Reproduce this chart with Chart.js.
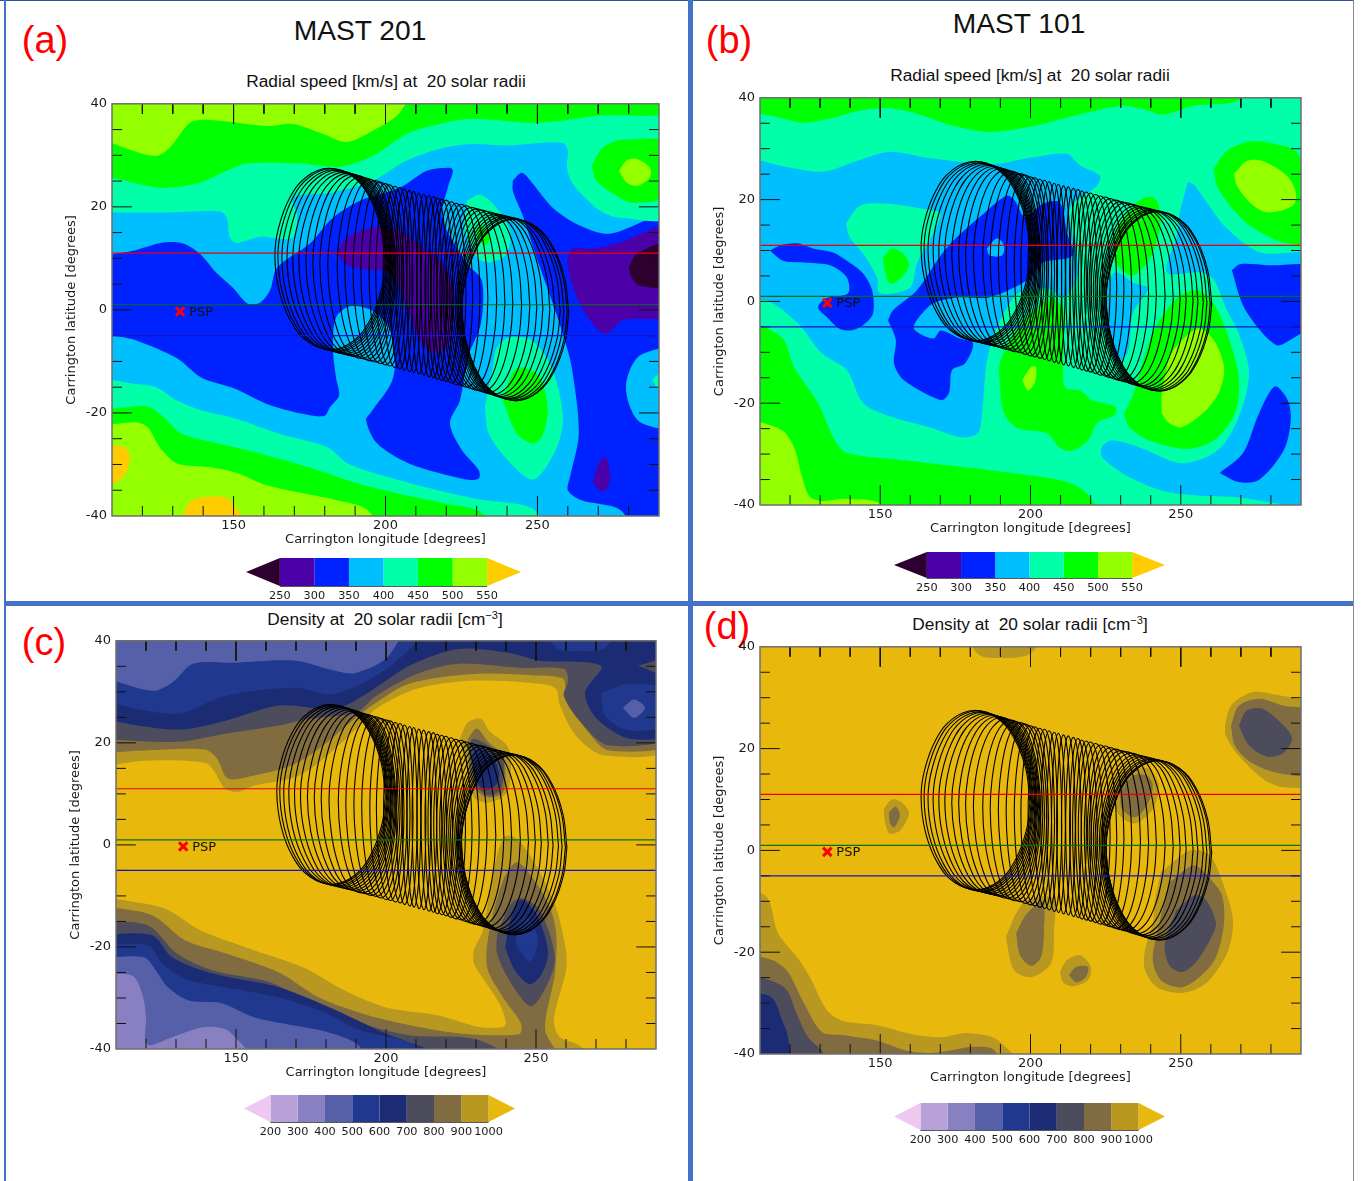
<!DOCTYPE html>
<html>
<head>
<meta charset="utf-8">
<title>MAST 201 / MAST 101</title>
<script src="https://cdn.jsdelivr.net/npm/chart.js@4"></script>
<style>
    html, body { margin: 0; padding: 0; background: #fff; }
    #page { position: relative; width: 1364px; height: 1181px; overflow: hidden; background: #fff; }
    .rule { position: absolute; background: #4472c4; }
    .txt { position: absolute; font-family: "Liberation Sans", Arial, sans-serif; color: #111; white-space: pre; transform: translate(-50%, -50%); line-height: 1; }
    .tag { color: #f00; font-size: 38px; }
    .big { font-size: 28.2px; }
    .sub { font-size: 17.3px; }
    .sub sup { font-size: 11px; line-height: 0; }
    canvas { position: absolute; }
</style>
</head>
<body>
<div id="page">
    <div class="rule" style="left:0;top:0;width:1353px;height:1px;background:#2f5597"></div>
    <div class="rule" style="left:4px;top:0;width:2px;height:1181px"></div>
    <div class="rule" style="left:688px;top:0;width:5px;height:1181px"></div>
    <div class="rule" style="left:4px;top:601px;width:1349px;height:5px"></div>
    <div class="rule" style="left:1353px;top:0;width:1px;height:1181px;background:#8a8a8a"></div>

    <div class="txt tag" style="left:45px;top:40px">(a)</div>
    <div class="txt tag" style="left:729px;top:40px">(b)</div>
    <div class="txt tag" style="left:44px;top:642px">(c)</div>
    <div class="txt tag" style="left:727px;top:626px">(d)</div>
    <div class="txt big" style="left:360px;top:30px">MAST 201</div>
    <div class="txt big" style="left:1019px;top:23px">MAST 101</div>
    <div class="txt sub" style="left:386px;top:82px">Radial speed [km/s] at  20 solar radii</div>
    <div class="txt sub" style="left:1030px;top:76px">Radial speed [km/s] at  20 solar radii</div>
    <div class="txt sub" style="left:385px;top:620px">Density at  20 solar radii [cm<sup>−3</sup>]</div>
    <div class="txt sub" style="left:1030px;top:625px">Density at  20 solar radii [cm<sup>−3</sup>]</div>
</div>
<script>
// axes
const lonRange = [110, 290];
const latRange = [-40, 40];
const lonLabels = [150, 200, 250];
const latLabels = [-40, -20, 0, 20, 40];
const lonMajorTicks = [150, 200, 250];
const lonMinorTicks = [120, 130, 140, 160, 170, 180, 190, 210, 220, 230, 240, 260, 270, 280];
const latMajorTicks = [-20, 0, 20];
const latMinorTicks = [-35, -30, -25, -15, -10, -5, 5, 10, 15, 25, 30, 35];
const orbitLats = [11, 1, -5];
const pspLon = 132.4;
const pspLat = -0.3;

// colour bars
const speedLevels = [250, 300, 350, 400, 450, 500, 550];
const densityLevels = [200, 300, 400, 500, 600, 700, 800, 900, 1000];

const ringLons = [181.7, 182.4, 183.2, 184.2, 185.3, 186.5, 187.8, 189.1, 190.4, 191.9, 193.6, 195, 196.7, 198.3, 200, 201.4, 203.1, 204.7, 206.2, 207.9, 209.3, 211, 212.6, 214.3, 215.8, 217.1, 218.6, 220, 221.7, 223.3, 225, 226.6, 228.4, 230.1, 231.7, 233.5, 235.2, 236.6, 237.8, 239.1, 240.1, 241.1, 241.9, 242.5, 242.7];
const ringLats = [9.9, 9.8, 9.6, 9.5, 9.3, 9.1, 8.9, 8.7, 8.5, 8.2, 8, 7.7, 7.5, 7.2, 6.9, 6.7, 6.4, 6.2, 5.9, 5.6, 5.4, 5.1, 4.9, 4.6, 4.4, 4.1, 3.9, 3.7, 3.4, 3.1, 2.9, 2.6, 2.3, 2, 1.8, 1.5, 1.2, 1, 0.8, 0.6, 0.4, 0.3, 0.1, 0, 0];
const ringHalfWidths = [18.1, 17.8, 17.3, 16.6, 15.8, 15, 14, 13, 12, 10.9, 9.5, 8.4, 7.4, 6.4, 5.4, 4.6, 3.9, 3.3, 2.8, 2.5, 2.3, 2.3, 2.3, 2.6, 2.8, 3.1, 3.6, 4.1, 4.8, 5.4, 6.1, 7.1, 8.2, 9.2, 10.2, 11.3, 12.3, 13.2, 14, 15, 15.6, 16.4, 16.8, 17.3, 17.6];
const ringOutlineLon = [18, 16.6, 12.7, 6.9, -0.5, -7.5, -13, -16.8, -18, -16.6, -12.7, -6.9, 0.5, 7.5, 13, 16.8, 18];
const ringOutlineLat = [-0.5, 6.2, 12.2, 16.2, 17.6, 16, 12, 6, 0.5, -6.2, -12.2, -16.2, -17.6, -16, -12, -6, -0.5];

const wholePlot = [[110, 40], [290, 40], [290, -40], [110, -40]];

// (a) MAST 201 speed contours, [lon, lat]
const a400N = [[110,18.9],[128.1,18.9],[145.5,19.1],[147.8,17.9],[148.8,14],[151.1,13],[158.7,14.2],[169.5,14],[170.9,18.3],[169.5,21.8],[182.7,22.8],[195.9,25.1],[207,29],[217.9,31.3],[228.8,32.2],[239.9,31.9],[250.8,32.4],[258.4,32.4],[260,30.9],[259.7,27.6],[261.6,24.5],[270.5,19.3],[277.1,17.9],[290,18.5],[290,40],[110,40]];
const a450N = [[110,26.6],[116.9,24.7],[126.8,23.7],[138.9,24.7],[147.8,27],[154.4,28.4],[171.8,28.4],[185,27.8],[195.9,29.9],[207,34.2],[217.9,36.1],[228.8,37.1],[249.8,36.3],[270.5,37.7],[290,38.6],[290,40],[110,40]];
const a500N = [[110,33.8],[116.9,30.9],[124.8,29.9],[129,31.5],[135.7,36.3],[141.3,36.9],[161,35.7],[169.5,36.1],[178.4,34.4],[187.3,32.6],[195.9,34.8],[204.7,38.3],[209.7,40],[110,40]];
const a450East = [[267.9,28],[271.5,31.5],[278.1,33],[290,32.2],[290,22.8],[281.4,20.8],[274.8,22.6],[269.5,25]];
const a500East = [[276.8,27],[279.4,29],[282.7,29.3],[287,27.6],[287,25.7],[283,24.1],[279.4,24.7]];
const a400Mid = [[226.8,21.2],[231.1,22.4],[236.6,19.8],[240.9,15.4],[239.9,10.9],[234.3,9.2],[230.1,10.2],[226.1,15.4]];
const a450Mid = [[230,15.4],[232,16.4],[234.3,14],[232.7,12.5],[230.4,13.9]];
const a400South = [[232.7,-18.9],[235.3,-11.2],[236.6,-7.3],[241.3,-5.2],[248.2,-5.9],[254.7,-11.2],[258.4,-20.9],[256,-27.2],[248.8,-32.9],[241.2,-29.8],[234,-24]];
const a450South = [[238.6,-17.6],[241.9,-12.1],[245.2,-11.2],[250.8,-13.1],[253.4,-19.5],[251.4,-24.7],[248.2,-25.9],[243.2,-24]];
const a400S = [[110,-12.9],[116.6,-14.3],[124.5,-15],[131.4,-17.6],[139.3,-19.5],[150.1,-21],[164.9,-24],[181,-26.7],[187.6,-29.8],[201.1,-32.5],[217.2,-35],[232,-36.9],[241.2,-37.5],[249.1,-38.9],[255.7,-40],[110,-40]];
const a450S = [[110,-19.5],[115.3,-18.9],[121.8,-18.7],[127.1,-20.9],[132.7,-24],[143.2,-25.7],[156.7,-27.6],[175.5,-30.7],[190.3,-33.6],[203.8,-35.6],[218.6,-37.5],[232,-39.5],[236,-40],[110,-40]];
const a500S = [[110,-22.8],[117.6,-21.8],[121.8,-22.8],[125.8,-26.7],[131.4,-29.8],[141.9,-30.5],[151.4,-31.7],[160.7,-34],[172.8,-35.6],[183.7,-36.9],[194.2,-38.9],[199.8,-40],[110,-40]];
const a550West = [[110,-26.7],[113.6,-26.5],[115.9,-28.6],[113.6,-32.5],[110,-35]];
const a550South = [[129.7,-40],[135.3,-37.5],[141.9,-36.2],[148.8,-36.9],[156.7,-40]];
const a350Main = [[110,10.2],[116.9,11.5],[126.8,13.1],[133.4,12.9],[138.9,10.9],[144.5,7.1],[149.8,4.3],[154.7,1.2],[158.7,1.4],[162,3.8],[164.3,8.2],[175.1,12.9],[182.7,17.9],[191.6,21.2],[204.7,23.7],[213.6,27],[221.2,27.6],[222.2,27],[220.5,23.7],[218.6,17.9],[226.8,9],[231.7,5.7],[231.4,-2.6],[227.1,-9.2],[224.5,-17.6],[221.2,-22],[225.1,-27.2],[230.7,-31.1],[230.7,-32.7],[226.4,-32.9],[207.7,-29.8],[197.2,-25.9],[193.6,-21.4],[195.2,-19.9],[201.8,-14.3],[203.1,-10.4],[201.1,-3.4],[195.5,-0.1],[188.3,0.7],[183.7,-1.5],[182.7,-7.3],[183.7,-13.1],[184.7,-16.6],[181.7,-18.9],[180.1,-20.5],[175.5,-20.5],[162,-18.5],[150.1,-15.2],[139.3,-13.1],[131.4,-9.4],[117.9,-5.9],[110,-3.2]];
const a350East = [[241.9,25.1],[244.9,26.6],[248.2,24.7],[255.1,19.8],[263.9,16.4],[273.8,14.8],[290,18.5],[290,-5.3],[283,-9.2],[279.1,-15],[283,-21.4],[290,-25],[290,-40],[284.3,-40],[277.4,-38.9],[264.3,-36.9],[260,-35],[260.7,-32.5],[263.6,-24],[261.3,-11.2],[258.7,-5.3],[255.1,1.2],[249.8,10],[244.9,18.7],[241.9,23.1]];
const a400Edge = [[290,-10.4],[288,-13.7],[290,-17.6]];
const a300Mid = [[184,11.1],[187.3,14],[195.9,16],[204.7,15.4],[212.3,12.1],[218.9,9],[222.2,4.3],[222.2,-2.6],[220.2,-7.3],[215.6,-8.4],[211.3,-5.9],[204.7,3.8],[201.4,7.2],[191.6,8],[186.6,9]];
const a300East = [[259.7,9.6],[261.6,11.9],[268.2,11.9],[276.1,12.9],[290,16.4],[290,-0.7],[278.1,-2],[272.8,-4.6],[269.5,-3.6],[263.9,1.2],[260.7,6.3]];
const a250East = [[280,8.2],[282.7,10.9],[290,13.5],[290,4.7],[283.7,4.7],[281,6.3]];
const a300South = [[268.2,-33.4],[270.2,-29.8],[272.5,-28.6],[273.8,-31.7],[273.2,-34.4],[270.9,-35.2]];

// (b) MAST 101 speed contours
const b400West = [[110,28.6],[120,26.3],[131,25.5],[142.3,27.6],[153.2,29.4],[165.6,28.2],[178.9,27.3],[189.8,27.1],[199.8,28.2],[212.1,29],[216.5,26.7],[223.1,24.7],[222.1,22.7],[213.1,18.2],[215.5,9],[215.5,4.5],[210.8,0.6],[206.5,2.5],[196.5,1.8],[190.8,-2.7],[187.2,-7.6],[185.2,-12.9],[183.9,-22],[182.5,-25.9],[176.9,-26.7],[166.2,-24.7],[153.9,-22.7],[144.3,-20],[138.9,-13.5],[130.6,-10.2],[122.6,-4.3],[112.3,0.2],[110,-0.2]];
const b400East = [[252.4,23.5],[254.7,22.7],[258.7,19.4],[265.4,14.3],[276.3,9.6],[290,8.4],[290,-38.4],[266.7,-38.4],[246.1,-37.5],[232.8,-34.5],[223.8,-30.6],[223.8,-28.6],[227.1,-27.3],[236.7,-28.8],[250.4,-31.8],[262.4,-29.2],[269.3,-22.7],[272.7,-14.1],[269.3,-6.3],[265.4,-1.8],[260.7,4.5],[256.4,5.7],[245.4,5.7],[248.7,12.9],[249.7,17.5]];
const b400Ring = [[225.4,3.1],[228.1,5.7],[234.1,3.7],[239.1,2.5],[234.1,-2.2],[232.4,-10],[228.8,-12],[225.4,-3.3]];
const b450Island = [[138.6,15.3],[143.3,18.8],[152.2,19.2],[164.2,18.2],[169.9,17.3],[167.6,13.3],[162.2,7.5],[159.9,2.7],[149.9,1.6],[148.9,4.7],[144.3,9.4],[139.9,12.5]];
const b500Island = [[150.9,8.6],[153.9,10.4],[157.6,9.4],[159.6,7.1],[156.6,4.5],[153.2,3.5],[151.6,6.1]];
const b500Top = [[110,37.5],[116.7,36.1],[124.3,35.1],[134.3,36.1],[143.3,37.5],[152.2,38],[160.9,37.1],[174.2,34.5],[186.5,33.3],[199.8,34.3],[212.1,36.1],[229.8,38.4],[237.4,37.8],[244.1,36.7],[254,38.4],[269.7,39.6],[276.3,40],[110,40]];
const b500East = [[261,26.1],[265.4,29.6],[273,31.4],[280.7,31],[289,29],[290,11.6],[284,11.6],[273,14.9],[266.4,18.8],[262,22.7]];
const b550East = [[267.7,25.1],[272,27.6],[277.3,27.6],[285.3,24.7],[288.3,21.4],[287.3,18.8],[278.7,17.5],[273,19.4],[268.7,22.7]];
const b500Ring = [[227.4,8.4],[228.8,14.3],[235.4,19.4],[239.7,20.6],[242.4,19.4],[243.1,14.3],[239.7,8.4],[234.1,5.1],[229.8,6.5]];
const b500SW = [[110,-3.3],[117.3,-7.1],[121.3,-12.9],[129.3,-20],[134.9,-27.3],[138.9,-29.8],[157.9,-31.2],[176.9,-32.5],[198.8,-34.1],[212.1,-35.5],[219.1,-38],[225.8,-40],[110,-40]];
const b550SW = [[110,-22.7],[117.3,-25.3],[121.3,-28.6],[124,-34.5],[126.6,-38.4],[130.6,-39.2],[138.9,-38.8],[149.9,-39.8],[150,-40],[110,-40]];
const b500Mid = [[210.8,-11.6],[211.5,-16.9],[216.5,-17.5],[220.4,-19.4],[224.4,-20],[228.4,-20.8],[227.8,-22.4],[222.4,-23.7],[219.1,-27.3],[213.5,-29.4],[209.5,-28.6],[205.5,-25.9],[195.8,-24.9],[191.2,-22],[189.8,-16.1],[189.8,-12.2],[193.2,-7.6],[196.5,-4.7],[206.5,0.6],[210.8,-1.4]];
const b550Mid = [[197.2,-15.5],[200.2,-12.9],[201.8,-12.9],[201.5,-15.9],[199.2,-17.5]];
const b500South = [[231.1,-22],[232.8,-24.7],[239.4,-27.3],[251.7,-29],[261,-27.3],[268,-22],[269.3,-14.9],[265.4,-6.3],[260.7,-0.2],[255.4,2.2],[248.7,0.6],[240.7,-6.1],[234.1,-18.4]];
const b550South = [[243.7,-22],[243.7,-18],[245.4,-12.9],[247.4,-9.6],[255.7,-5.3],[261,-7.6],[264.4,-12.9],[263,-17.5],[258.4,-21.4],[250.4,-24.7],[246.1,-23.9]];
const b350Worm = [[113.3,10],[116.7,11],[122.3,11.4],[127.6,10.4],[134.3,9.6],[138.9,8],[144.3,5.5],[147.3,2.2],[147.6,-2.4],[144.3,-4.7],[140.3,-5.7],[136.3,-5.3],[132.3,-3.1],[129.3,-1.2],[132,0.6],[139.3,1.6],[138.9,4.7],[133.3,7.1],[125.6,7.6],[117.7,8]];
const b350Mid = [[152.6,-3.7],[154.2,-1.8],[162.2,2.2],[172.2,10.6],[185.5,17.8],[192.2,20.8],[194.8,19.8],[198.2,16.5],[204.1,19.2],[209.8,19.4],[212.1,13.5],[214.1,9],[204.1,7.6],[199.8,4.5],[186.5,0.8],[176.5,0.8],[168.2,-0.2],[163.9,-2.4],[161.2,-5.3],[167.6,-7.3],[170.2,-5.7],[176.5,-7.3],[180.9,-8.2],[178.2,-12.2],[173.9,-13.5],[172.9,-18],[170.2,-19.4],[157.9,-15.5],[154.6,-12.2],[155.2,-7.6]];
const b400Hole = [[185.5,10.4],[188.8,12.4],[191.2,11],[190.5,9],[186.5,9]];
const b350East = [[267,6.1],[269.7,7.3],[278.7,7.1],[290,6.5],[290,-3.1],[285.3,-8],[282,-8.6],[277.3,-6.3],[270.7,-0.8]];
const b350South = [[263,-33.7],[270.7,-29.8],[276,-22],[281.3,-16.7],[285.6,-19.4],[286.6,-23.3],[284.3,-29.2],[276,-35.1],[269.3,-35.5]];

// (c) MAST 201 density contours
const c1000N = [[110,15.1],[119.3,16.5],[139.7,16.1],[143,14.2],[146.3,11],[150.7,10.4],[156,11.6],[168.3,13],[176.3,15.5],[191.3,23.4],[196.7,26.7],[210.3,30.6],[229.3,32.2],[251.3,31.6],[256.7,30.6],[258,27.3],[263.3,21.4],[273,17.5],[290,19.5],[290,40],[110,40]];
const c900N = [[110,17.9],[119.3,18.5],[139.7,18.7],[143.7,16.9],[147.3,13],[156,13.6],[168.3,15.5],[177.7,18.9],[188.7,24.3],[195.3,27.3],[207.7,31.6],[229.3,33.5],[250,33.2],[259,32.6],[260,30.2],[261.3,27.7],[267,22.4],[274.3,18.5],[290,20.6],[290,40],[110,40]];
const c800N = [[110,20.8],[130.3,20.2],[146.3,21.8],[164.3,23.4],[174.7,24.7],[190,25.9],[196.7,29.2],[210.3,33.5],[224,35.5],[244.3,34.7],[259.3,34.5],[260.7,32.2],[259.3,29.2],[265,24],[274.3,19.5],[290,22],[290,40],[110,40]];
const c700N = [[110,24.7],[130.3,22.6],[146.3,24.3],[164.3,27.3],[183.3,26.7],[194,29.8],[207.7,35.1],[224,38.4],[240.3,37.7],[251.3,36.1],[271.7,35.1],[266.3,29.8],[270.3,24.7],[281.3,20.8],[290,22.4],[290,40],[110,40]];
const c600N = [[110,28.3],[130.3,25.7],[146.3,29.2],[169.7,30.8],[183.3,29.6],[203.7,36.1],[216,40],[110,40]];
const c500N = [[110,33.2],[122,30.2],[128.7,31.8],[135.7,35.5],[149.3,35.7],[169.7,36.1],[183.3,34.1],[190,33.7],[201,37.1],[206.3,40],[110,40]];
const c700Corner = [[284,35.1],[290,36.7],[290,32.8]];
const c600Top = [[250,40],[256.7,38.6],[265,38],[273,38.6],[280,40]];
const c600East = [[271.7,29.8],[281.3,31.6],[290,30],[290,24],[281.3,22.4],[273,25.3]];
const c500East = [[279,26.9],[282.7,28.5],[286.3,26.9],[282.7,24.9]];
const c1000S = [[110,-10.1],[126,-12.4],[138.3,-16.8],[153.3,-20.1],[172.3,-24],[186,-28.5],[199.7,-31.8],[217.3,-33.4],[231,-35.7],[239,-35.7],[240,-34.8],[237.7,-31],[232.3,-26.1],[229.3,-23.2],[229.3,-20.7],[232.3,-16.8],[235.7,-5.4],[239,1.3],[241.7,1.8],[245.7,-0.1],[251.3,-5.4],[256.7,-12.3],[260,-20.7],[260,-24.6],[256.7,-31.8],[256,-35],[258,-37.7],[265,-39.6],[270.3,-40],[110,-40]];
const c900S = [[110,-11.9],[122,-13.8],[133,-18.7],[146.7,-21.3],[164.3,-25],[177.7,-29.9],[194,-33.4],[207.7,-35.3],[224,-36.9],[244.3,-37.1],[245,-35],[239,-29.9],[233.7,-24],[234.3,-17.3],[239,-7],[243.7,-3.4],[250,-7.4],[254.7,-12.3],[256.7,-17.3],[256.3,-25.2],[253.3,-33.8],[253.3,-36.9],[260.7,-40],[110,-40]];
const c800S = [[110,-15],[120.7,-15.8],[130.3,-21.3],[142.3,-24.6],[161.3,-26.9],[175,-31],[191.3,-34.9],[207.7,-37.3],[231,-38.3],[251.3,-40],[110,-40]];
const c700S = [[110,-17.7],[122,-17.7],[128.7,-22],[142.3,-25.2],[164.3,-27.9],[183.3,-32.4],[199.7,-36.9],[237.7,-40],[110,-40]];
const c600S = [[110,-19.7],[120.7,-19.7],[126,-23.6],[134.3,-26.5],[146.3,-27.9],[164.3,-29.9],[177.7,-32.4],[191.3,-36.3],[210.3,-39.6],[214.7,-40],[110,-40]];
const c500S = [[110,-22.2],[119.3,-22],[123.3,-24.6],[127.3,-27.9],[134.3,-30.5],[145,-31],[156,-33.8],[168.3,-35.3],[180.7,-36.7],[191.3,-39.6],[192,-40],[110,-40]];
const c400S = [[110,-25.6],[115.3,-25.6],[118.7,-29.1],[120,-33.8],[119.7,-38.3],[121.3,-39.3],[128.7,-37.7],[139.7,-35.7],[148,-36.7],[158.7,-40],[110,-40]];
const c800Oval = [[237,-17.7],[241.7,-11.5],[245.7,-10.5],[251.3,-12.8],[256.3,-22],[253.3,-27.9],[248.3,-31.6],[241.7,-27.1],[237,-21.3]];
const c700Oval = [[239.7,-20.1],[241.7,-14.2],[245,-10.7],[250,-13.4],[254,-20.7],[252,-25.2],[248,-27.3],[243,-24.6]];
const c600Oval = [[243,-17.3],[247,-14.2],[250.7,-18.7],[248,-22.8],[244,-20.1]];
const c1000Mid = [[224.7,21],[227.3,24],[231.7,24.7],[234.3,22.4],[240.3,19.5],[241.7,16.5],[240.3,10.3],[234.3,8.3],[229.3,9.3],[228,12.6],[226.3,16.5]];
const c900Mid = [[227.3,20.8],[230.3,22.8],[234.3,20],[238.3,18.1],[239.7,16.1],[239,10.3],[234.3,9.3],[230.3,10.6],[228,14.2]];
const c800Mid = [[227.3,19.5],[229.3,20.8],[235,19.1],[239,16.9],[238.3,11],[234.3,9.7],[230.3,11.6]];
const c700Mid = [[228.7,17.5],[230.7,19.1],[235.7,17.1],[237.7,14.2],[237,12],[233.7,10.8],[230.3,12.2]];

// (d) MAST 101 density contours
const d1000Top = [[175.5,40],[182.5,38.6],[190.5,37.8],[200.2,38.8],[206.8,40]];
const d1000East = [[264.7,24.5],[266.7,28.4],[273.3,31],[280,30.8],[290,27.8],[290,13.3],[284.3,12.4],[277.3,14.1],[269.3,18.6],[265,22.5]];
const d900East = [[266.7,24.5],[269.3,28.4],[276,29.8],[284.3,28.4],[290,27],[290,15.3],[283,15.1],[273.3,17.3],[268,20.6]];
const d800East = [[269.3,24.5],[272,27.5],[277.3,27.8],[284.3,24.5],[287,22],[284.3,19.2],[278.7,18.4],[272.7,20.6]];
const d1000Small = [[151.2,8.2],[153.9,10],[157.2,9.4],[159.6,7.3],[156.6,3.9],[153.2,3.3],[151.6,5.5]];
const d900Small = [[152.9,7.5],[155.2,8.6],[156.6,6.9],[154.6,4.5],[153.2,5.5]];
const d1000Ring = [[228.4,12.2],[232.8,15.3],[239.4,16.1],[242.7,12.7],[240.7,8.2],[234.8,5.3],[229.1,7.3]];
const d900Ring = [[229.8,11.4],[234.1,14.7],[238.7,14.7],[240.7,12.7],[238.7,8.8],[234.8,6.5],[230.4,8.2]];
const d1000South = [[243.4,-4.3],[253,0],[259.7,-1],[265.4,-8.8],[267.4,-14.3],[265.4,-20.2],[258.4,-26.1],[250.4,-28],[242.1,-26.9],[238.1,-23.5],[238.1,-19.6],[240.7,-14.3],[241.4,-9.8]];
const d900South = [[246.1,-6.3],[254.4,-2.9],[259.7,-5.5],[263.7,-8.8],[264.4,-14.3],[261.7,-21],[257,-24.5],[250.4,-26.9],[243.4,-25.5],[240.7,-21.6],[242.1,-16.3],[244.1,-11.2]];
const d800South = [[248.4,-11.8],[254.4,-8.8],[258.4,-9.8],[261.7,-14.3],[259.7,-17.6],[255,-22],[250.4,-23.9],[246.1,-22.5],[244.7,-18.2]];
const d1000Oval = [[191.8,-17.1],[195.2,-12.4],[198.8,-9.8],[207.5,-9.4],[207.8,-16.3],[206.8,-22.2],[200.2,-24.9],[194.5,-23.5]];
const d900Oval = [[195.2,-16.3],[198.8,-12.4],[204.1,-10.2],[204.5,-15.7],[203.5,-21],[200.2,-22.7],[196.5,-20.6]];
const d1000Dot = [[209.8,-23.9],[212.1,-21.6],[216.5,-20.6],[220.1,-22.9],[219.1,-25.5],[214.1,-26.7],[210.8,-25.9]];
const d900Dot = [[212.8,-24.5],[215.1,-22.9],[219.1,-22.9],[218.4,-24.9],[215.1,-25.9]];
const d1000SW = [[110,-7.5],[112.3,-9.2],[116,-16.3],[122.6,-21.2],[126.6,-24.9],[132.3,-31.4],[137.6,-33.5],[148.6,-34.3],[160.6,-36.1],[170.2,-36.7],[179.5,-35.9],[189.2,-37.3],[200.2,-40],[110,-40]];
const d900SW = [[110,-20.2],[114.3,-21.6],[119.3,-23.9],[124.6,-30],[130.6,-35.7],[137.6,-36.3],[148.6,-37.3],[157.9,-39.2],[166.2,-39.8],[174.2,-39.2],[180.9,-38.6],[187.8,-39.2],[193.2,-40],[110,-40]];
const d800SW = [[110,-23.9],[118,-26.9],[122.6,-32.7],[126,-36.7],[130.6,-39.4],[137.6,-40],[110,-40]];
const d700SW = [[110,-27.8],[113.7,-28.8],[117.3,-33.3],[119.3,-36.7],[120,-40],[110,-40]];

const speedColor = { s250: '#2d0030', s300: '#4b00a8', s350: '#0022ff', s400: '#00bfff', s450: '#00ffa8', s500: '#00ff00', s550: '#94ff00', s600: '#ffcc00' };
const densColor = { d200: '#eec8f0', d300: '#b8a0d8', d400: '#8880c0', d500: '#5560a8', d600: '#20388e', d700: '#1c2c74', d800: '#4c4c5c', d900: '#806c40', d1000: '#b89820', d1100: '#e8b80c' };
const speedBarColors = ['s250', 's300', 's350', 's400', 's450', 's500', 's550', 's600'].map(k => speedColor[k]);
const densBarColors = ['d200', 'd300', 'd400', 'd500', 'd600', 'd700', 'd800', 'd900', 'd1000', 'd1100'].map(k => densColor[k]);

const s = speedColor;
const d = densColor;
const layersA = [
    [wholePlot, s.s400], [a350Main, s.s350], [a350East, s.s350], [a300Mid, s.s300], [a300East, s.s300], [a250East, s.s250], [a300South, s.s300],
    [a400N, s.s450], [a450N, s.s500], [a500N, s.s550], [a450East, s.s500 ], [a500East, s.s550], [a400Mid, s.s450], [a450Mid, s.s500],
    [a400South, s.s450], [a450South, s.s500], [a400Edge, s.s450],
    [a400S, s.s450], [a450S, s.s500], [a500S, s.s550], [a550West, s.s600], [a550South, s.s600]
];
const layersB = [
    [wholePlot, s.s450], [b400West, s.s400], [b400East, s.s400], [b400Ring, s.s400], [b450Island, s.s450], [b500Island, s.s500],
    [b500Top, s.s500], [b500East, s.s500], [b550East, s.s550], [b500Ring, s.s500], [b500SW, s.s500], [b550SW, s.s550],
    [b500Mid, s.s500], [b550Mid, s.s550], [b500South, s.s500], [b550South, s.s550],
    [b350Worm, s.s350], [b350Mid, s.s350], [b400Hole, s.s400], [b350East, s.s350], [b350South, s.s350]
];
const layersC = [
    [wholePlot, d.d1100], [c1000N, d.d1000], [c900N, d.d900], [c800N, d.d800], [c700N, d.d700], [c600N, d.d600], [c500N, d.d500],
    [c700Corner, d.d800], [c600Top, d.d600], [c600East, d.d600], [c500East, d.d500],
    [c1000S, d.d1000], [c900S, d.d900], [c800S, d.d800], [c700S, d.d700], [c600S, d.d600], [c500S, d.d500], [c400S, d.d400],
    [c800Oval, d.d800], [c700Oval, d.d700], [c600Oval, d.d600],
    [c1000Mid, d.d1000], [c900Mid, d.d900], [c800Mid, d.d800], [c700Mid, d.d700]
];
const layersD = [
    [wholePlot, d.d1100], [d1000Top, d.d1000], [d1000East, d.d1000], [d900East, d.d900], [d800East, d.d800],
    [d1000Small, d.d1000], [d900Small, d.d900], [d1000Ring, d.d1000], [d900Ring, d.d900],
    [d1000South, d.d1000], [d900South, d.d900], [d800South, d.d800],
    [d1000Oval, d.d1000], [d900Oval, d.d900], [d1000Dot, d.d1000], [d900Dot, d.d900],
    [d1000SW, d.d1000], [d900SW, d.d900], [d800SW, d.d800], [d700SW, d.d700]
];

Chart.defaults.font.family = '"DejaVu Sans", sans-serif';
Chart.defaults.color = '#1a1a1a';
Chart.defaults.animation = false;

// Chart.js cannot fill a closed, non monotonic line, so fill the line element's own path
const shapeFill = {
    id: 'shapeFill',
    beforeDatasetDraw(chart, args) {
        const ds = chart.data.datasets[args.index];
        if (!ds.shapeColor) return;
        const a = chart.chartArea;
        const ctx = chart.ctx;
        ctx.save();
        ctx.beginPath();
        ctx.rect(a.left, a.top, a.right - a.left, a.bottom - a.top);
        ctx.clip();
        args.meta.dataset.updateControlPoints(a);
        ctx.beginPath();
        args.meta.dataset.path(ctx);
        ctx.closePath();
        ctx.fillStyle = ds.shapeColor;
        ctx.fill();
        ctx.restore();
    }
};

const plotFrame = {
    id: 'plotFrame',
    afterDatasetsDraw(chart) {
        const a = chart.chartArea;
        const ctx = chart.ctx;
        ctx.save();
        ctx.strokeStyle = '#6e6e6e';
        ctx.lineWidth = 1.5;
        ctx.strokeRect(a.left, a.top, a.right - a.left, a.bottom - a.top);
        ctx.fillStyle = '#111';
        ctx.font = '13px "DejaVu Sans"';
        ctx.textBaseline = 'middle';
        const x = chart.scales.x.getPixelForValue(pspLon);
        const y = chart.scales.y.getPixelForValue(pspLat);
        ctx.fillText('PSP', x + 9, y + 1);
        ctx.restore();
    }
};

// contour ends run past the frame so the smoothing never pulls them inside it
function overEdge(pt) {
    let x = pt[0];
    let y = pt[1];
    if (x <= lonRange[0]) x = lonRange[0] - 6;
    if (x >= lonRange[1]) x = lonRange[1] + 6;
    if (y <= latRange[0]) y = latRange[0] - 6;
    if (y >= latRange[1]) y = latRange[1] + 6;
    return { x: x, y: y };
}

function shapeDataset(pts, color) {
    const closed = pts.concat([pts[0]]).map(overEdge);
    return { data: closed, showLine: true, borderWidth: 0, pointRadius: 0, tension: 0.3, capBezierPoints: false, shapeColor: color };
}

function lineDataset(data, color, width, tension) {
    return { data: data, showLine: true, borderColor: color, borderWidth: width, pointRadius: 0, tension: tension || 0 };
}

// tick marks point inwards from all four sides; lengths in degrees (about 10 and 20 px)
function tickSegments(values, len, onX) {
    const out = [];
    values.forEach(v => {
        if (onX) {
            out.push({ x: v, y: latRange[1] }, { x: v, y: latRange[1] - len }, { x: null, y: null });
            out.push({ x: v, y: latRange[0] }, { x: v, y: latRange[0] + len }, { x: null, y: null });
        } else {
            out.push({ x: lonRange[0], y: v }, { x: lonRange[0] + len, y: v }, { x: null, y: null });
            out.push({ x: lonRange[1], y: v }, { x: lonRange[1] - len, y: v }, { x: null, y: null });
        }
    });
    return out;
}

function ringDatasets() {
    return ringLons.map((lon, i) => lineDataset(
        ringOutlineLon.map((dx, k) => ({ x: lon + dx * ringHalfWidths[i] / 18, y: ringLats[i] + ringOutlineLat[k] })),
        '#000', 1.1, 0.4
    ));
}

function addCanvas(left, top, w, h) {
    const c = document.createElement('canvas');
    c.width = w;
    c.height = h;
    c.style.left = left + 'px';
    c.style.top = top + 'px';
    c.style.width = w + 'px';
    c.style.height = h + 'px';
    document.getElementById('page').appendChild(c);
    return c;
}

function drawPanel(left, top, width, height, layers) {
    const padLeft = 60;
    const padBottom = 33;
    const c = addCanvas(left - padLeft, top - 12, width + padLeft + 12, height + 12 + padBottom);
    const datasets = layers.map(l => shapeDataset(l[0], l[1]));
    datasets.push(lineDataset(tickSegments(lonMinorTicks, 1.95, true), '#111', 1));
    datasets.push(lineDataset(tickSegments(lonMajorTicks, 3.9, true), '#111', 1));
    datasets.push(lineDataset(tickSegments(latMinorTicks, 3.3, false), '#111', 1));
    datasets.push(lineDataset(tickSegments(latMajorTicks, 6.6, false), '#111', 1));
    ringDatasets().forEach(r => datasets.push(r));
    const orbitColors = ['#e8000c', '#0b6e14', '#1414c8'];
    orbitLats.forEach((lat, i) => {
        datasets.push(lineDataset([{ x: lonRange[0], y: lat }, { x: lonRange[1], y: lat }], orbitColors[i], 1.2));
    });
    datasets.push({ data: [{ x: pspLon, y: pspLat }], pointStyle: 'crossRot', pointRadius: 6, borderColor: '#f00', pointBorderWidth: 3, showLine: false });
    datasets.forEach((ds, i) => { ds.order = datasets.length - i; });

    new Chart(c, {
        type: 'scatter',
        data: { datasets: datasets },
        plugins: [shapeFill, plotFrame],
        options: {
            responsive: false,
            events: [],
            layout: { padding: { top: 12, right: 12 } },
            plugins: { legend: { display: false }, tooltip: { enabled: false } },
            scales: {
                x: {
                    type: 'linear', min: lonRange[0], max: lonRange[1],
                    afterBuildTicks: sc => { sc.ticks = lonLabels.map(v => ({ value: v })); },
                    afterFit: sc => { sc.height = padBottom; },
                    grid: { display: false, drawTicks: false }, border: { display: false },
                    ticks: { font: { size: 13 }, padding: 2, maxRotation: 0, autoSkip: false },
                    title: { display: true, text: 'Carrington longitude [degrees]', font: { size: 13 }, padding: { top: 0, bottom: 2 } }
                },
                y: {
                    type: 'linear', min: latRange[0], max: latRange[1],
                    afterBuildTicks: sc => { sc.ticks = latLabels.map(v => ({ value: v })); },
                    afterFit: sc => { sc.width = padLeft; },
                    grid: { display: false, drawTicks: false }, border: { display: false },
                    ticks: { font: { size: 13 }, padding: 5, autoSkip: false },
                    title: { display: true, text: 'Carrington latitude [degrees]', font: { size: 13 }, padding: { top: 12, bottom: 0 } }
                }
            }
        }
    });
}

function drawColorbar(left, top, right, barHeight, levels, colors, lowTip, highTip) {
    const margin = 25;
    const c = addCanvas(left - margin, top, right - left + margin * 2, barHeight + 18);
    const datasets = [];
    const box = (pts, color) => ({ data: pts.map(p => ({ x: p[0], y: p[1] })), showLine: true, borderWidth: 0, pointRadius: 0, shapeColor: color });
    datasets.push(box([[levels[0], 0], [levels[0], 1], [lowTip, 0.5]], colors[0]));
    levels.slice(1).forEach((v, i) => {
        datasets.push(box([[levels[i], 0], [levels[i], 1], [v, 1], [v, 0]], colors[i + 1]));
    });
    const last = levels[levels.length - 1];
    datasets.push(box([[last, 0], [last, 1], [highTip, 0.5]], colors[colors.length - 1]));
    datasets.push({ data: [{ x: levels[0], y: 0 }, { x: last, y: 0 }], showLine: true, borderColor: '#222', borderWidth: 1.5, pointRadius: 0, clip: false });

    new Chart(c, {
        type: 'scatter',
        data: { datasets: datasets },
        plugins: [shapeFill],
        options: {
            responsive: false,
            events: [],
            layout: { padding: { left: margin, right: margin } },
            plugins: { legend: { display: false }, tooltip: { enabled: false } },
            scales: {
                x: {
                    type: 'linear', min: lowTip, max: highTip,
                    afterBuildTicks: sc => { sc.ticks = levels.map(v => ({ value: v })); },
                    afterFit: sc => { sc.height = 18; },
                    grid: { display: false, drawTicks: false }, border: { display: false },
                    ticks: { font: { size: 11.3 }, padding: 3, maxRotation: 0, autoSkip: false, callback: v => String(v) }
                },
                y: { type: 'linear', min: 0, max: 1, display: false }
            }
        }
    });
}

drawPanel(112, 103, 547, 413, layersA);
drawPanel(760, 97, 541, 408, layersB);
drawPanel(116, 640, 540, 409, layersC);
drawPanel(760, 646, 541, 408, layersD);

drawColorbar(246, 558, 521, 28, speedLevels, speedBarColors, 201, 599);
drawColorbar(894, 552, 1165, 26, speedLevels, speedBarColors, 202, 598);
drawColorbar(244, 1095, 515, 27, densityLevels, densBarColors, 103, 1097);
drawColorbar(894, 1103, 1165, 27, densityLevels, densBarColors, 103, 1097);
</script>
</body>
</html>
